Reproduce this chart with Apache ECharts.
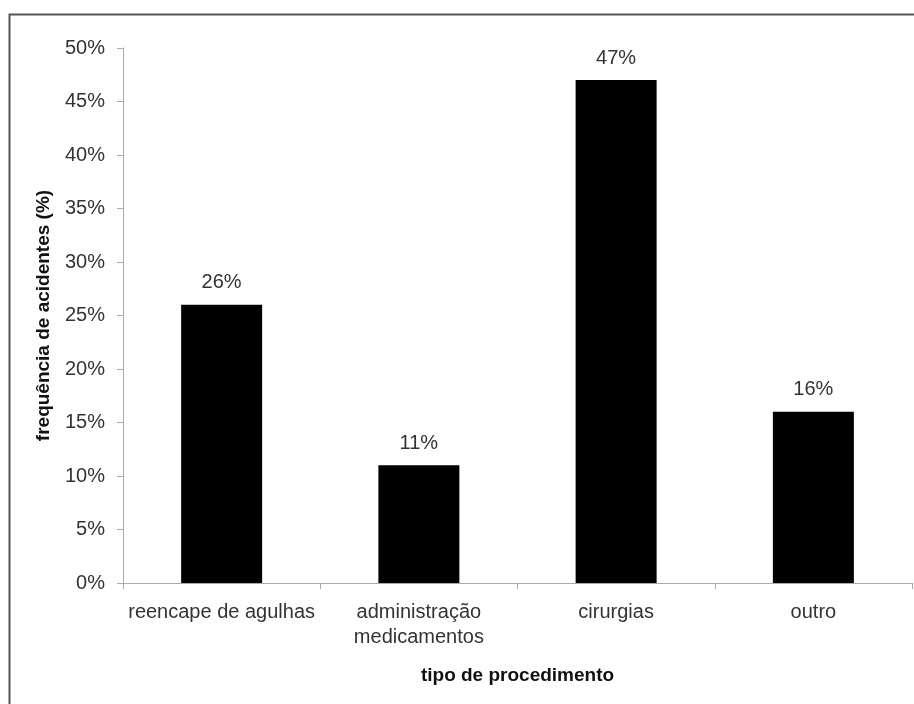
<!DOCTYPE html>
<html>
<head>
<meta charset="utf-8">
<script src="https://cdn.jsdelivr.net/npm/echarts@6/dist/echarts.min.js"></script>
<style>html,body{margin:0;padding:0;background:#fff;}#c{width:914px;height:704px;}</style>
</head>
<body>
<div id="c"></div>
<script>
const categories = ['reencape de agulhas', 'administração\nmedicamentos', 'cirurgias', 'outro'];
const values = [26, 11, 47, 16];
const yTicks = { min: 0, max: 50, interval: 5 };

const chart = echarts.init(document.getElementById('c'));
const font = '"Liberation Sans", Arial, sans-serif';
chart.setOption({
  animation: false,
  backgroundColor: '#fff',
  textStyle: { fontFamily: font },
  graphic: [{
    type: 'rect', shape: { x: 9.5, y: 14.5, width: 1000, height: 1000 },
    style: { fill: 'none', stroke: '#555', lineWidth: 2 }, silent: true
  }],
  grid: { left: 123, right: 2, top: 48, bottom: 121, containLabel: false },
  xAxis: {
    type: 'category', data: categories,
    name: 'tipo de procedimento', nameLocation: 'middle', nameGap: 83,
    nameTextStyle: { fontFamily: font, fontSize: 19, fontWeight: 'bold', color: '#111' },
    axisLine: { lineStyle: { color: '#aaa', width: 1 } },
    axisTick: { show: true, alignWithLabel: false, length: 6, lineStyle: { color: '#aaa' } },
    axisLabel: { fontFamily: font, fontSize: 20, color: '#333', margin: 17, lineHeight: 25, interval: 0 }
  },
  yAxis: {
    type: 'value', min: yTicks.min, max: yTicks.max, interval: yTicks.interval,
    name: 'frequência de acidentes (%)', nameLocation: 'middle', nameGap: 70, nameRotate: 90,
    nameTextStyle: { fontFamily: font, fontSize: 19, fontWeight: 'bold', color: '#111' },
    axisLine: { show: true, lineStyle: { color: '#aaa', width: 1 } },
    axisTick: { show: true, length: 6, lineStyle: { color: '#aaa' } },
    splitLine: { show: false },
    axisLabel: { fontFamily: font, fontSize: 20, color: '#333', margin: 18, formatter: v => v + '%' }
  },
  series: [{
    type: 'bar', data: values, barWidth: 81,
    itemStyle: { color: '#000' },
    label: { show: true, position: 'top', distance: 12, fontFamily: font, fontSize: 20, color: '#333', formatter: p => p.value + '%' }
  }]
});
</script>
</body>
</html>
